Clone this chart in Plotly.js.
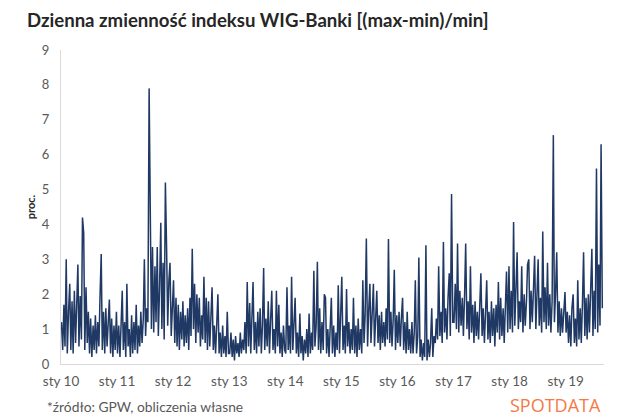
<!DOCTYPE html>
<html>
<head>
<meta charset="utf-8">
<script src="https://cdn.plot.ly/plotly-3.0.1.min.js"></script>
<style>
  html, body { margin: 0; padding: 0; background: #fff; }
  #plot { width: 640px; height: 419px; }
</style>
</head>
<body>
<div id="plot"></div>
<script>
// daily (max-min)/min of WIG-Banki, in % (thinned, roughly one value per week)
var v2010 = [1.2,0.4,1.7,0.5,3.0,0.3,1.5,2.3,0.4,1.8,0.3,2.1,0.6,1.4,2.85,0.5,1.95,0.7,4.2,3.75,0.4,2.2,0.6,1.5,0.3,1.3,0.2,1.1,0.4,1.4,0.3,1.2,0.5,1.9,3.15,0.4,1.5,0.3,1.6,0.5,1.2,1.85,0.3,1.3,0.2,1.1,0.4,1.5];
var v2011 = [0.3,1.1,0.2,1.3,2.1,0.4,1.2,0.2,2.3,0.5,1.0,0.2,1.4,0.3,1.2,0.4,1.7,0.3,1.1,0.5,1.5,0.6,1.3,3.0,0.8,1.6,1.2,7.9,3.7,1.0,3.35,0.9,2.8,1.2,3.35,0.8,2.2,4.05,1.0,2.9,0.7,5.2,3.3,1.1,2.4,2.9,0.8,1.8];
var v2012 = [2.4,0.6,1.9,0.5,1.7,0.4,1.5,0.7,1.8,0.5,1.4,0.6,1.6,0.4,1.9,0.8,3.3,1.0,2.3,0.6,2.0,0.9,1.9,0.5,1.4,0.7,2.5,0.6,1.9,0.4,1.8,0.5,1.2,2.2,0.4,1.1,0.3,1.0,2.0,0.3,0.9,0.2,1.1,0.3,0.8,0.2,1.5,0.3];
var v2013 = [0.3,0.9,0.2,0.7,0.1,0.8,0.3,0.6,0.2,0.9,0.3,0.7,0.4,1.2,0.3,2.35,0.5,1.75,0.3,1.4,2.35,0.4,1.2,0.3,1.5,0.5,1.6,0.3,1.1,2.75,0.4,1.3,0.5,1.8,0.3,1.2,2.1,0.4,1.0,0.3,2.1,0.5,1.7,0.3,0.9,0.2,1.1,0.4];
var v2014 = [0.3,2.2,0.4,1.1,0.3,2.5,0.4,1.2,1.9,0.3,0.9,0.2,1.45,0.3,0.8,0.1,0.7,0.3,1.0,0.2,1.45,0.3,0.9,0.4,2.67,0.5,1.1,2.93,0.4,1.6,0.3,1.2,0.4,2.0,1.9,0.3,1.0,0.2,1.3,1.9,0.3,1.1,0.2,0.9,0.4,2.26,0.3,1.2];
var v2015 = [2.5,0.4,1.1,0.3,2.15,0.5,1.2,0.3,1.0,0.4,1.9,0.3,1.1,0.2,1.3,0.4,1.0,0.3,2.4,0.6,1.4,3.6,0.5,1.5,2.3,0.6,1.4,2.3,0.5,1.3,2.1,0.6,1.4,0.4,1.5,0.6,1.2,0.5,1.6,0.7,3.58,0.6,1.5,0.5,1.3,2.7,0.4,1.4];
var v2016 = [0.6,1.5,0.5,1.3,1.9,0.4,1.2,0.3,1.5,0.4,1.0,0.3,1.2,0.3,0.9,2.4,0.3,0.8,3.05,0.2,0.7,0.1,0.6,0.2,3.4,0.1,0.7,0.2,0.6,1.6,0.2,0.8,0.6,1.3,0.7,2.8,0.8,1.5,0.6,3.5,0.9,1.6,0.7,1.9,2.6,0.8,4.87,1.2];
var v2017 = [1.2,2.3,1.0,3.45,0.9,2.1,1.1,1.9,0.8,2.0,3.45,1.0,1.8,0.7,2.8,0.9,1.7,0.6,1.8,0.8,1.5,0.7,1.9,2.6,0.8,1.6,0.6,1.7,2.4,0.7,1.5,0.6,1.8,0.8,1.6,0.5,1.7,0.9,2.35,0.7,1.9,0.8,1.6,0.6,2.0,2.65,0.9,2.8];
var v2018 = [1.0,2.1,0.9,4.07,1.1,2.0,3.2,1.0,1.8,1.2,2.8,0.9,2.0,1.1,1.8,2.85,3.0,1.0,2.1,1.2,1.9,3.1,1.0,2.2,3.0,1.1,1.9,0.9,3.8,1.2,2.2,1.0,2.9,1.1,2.0,0.9,1.8,6.56,1.2,2.1,3.2,0.9,1.8,0.8,1.6,0.9,1.7,2.06];
var v2019 = [0.9,1.5,0.6,1.4,0.5,1.6,2.0,0.6,1.3,0.5,2.4,0.7,1.6,0.6,1.8,3.2,0.8,1.9,0.7,2.0,0.9,2.2,3.3,0.8,2.1,1.0,5.6,0.9,2.85,1.1,6.3,1.6];

var years = [2010,2011,2012,2013,2014,2015,2016,2017,2018,2019];
var yearValues = [v2010,v2011,v2012,v2013,v2014,v2015,v2016,v2017,v2018,v2019];
var tickLabels = ['sty 10','sty 11','sty 12','sty 13','sty 14','sty 15','sty 16','sty 17','sty 18','sty 19'];

var DAY = 86400000;
var step = 365 / 48; // days between the thinned values

var xs = [], ys = [];
years.forEach(function (yr, k) {
    var start = Date.UTC(yr, 0, 1);
    yearValues[k].forEach(function (v, i) {
        xs.push(new Date(start + (i + 0.5) * step * DAY).toISOString().slice(0, 10));
        ys.push(v);
    });
});

var tickVals = years.map(function (yr) { return yr + '-01-01'; });

var plotlyData = [{
    type: 'scatter',
    mode: 'lines',
    x: xs, y: ys,
    line: {color: '#1f3864', width: 1.5},
    hoverinfo: 'skip'
}];

var fnt = 'Lato, "Open Sans", sans-serif';

var layout = {
    width: 640, height: 419,
    margin: {l: 61, r: 36, t: 50, b: 55},
    paper_bgcolor: '#fff', plot_bgcolor: '#fff',
    showlegend: false,
    font: {family: fnt, color: '#595959', size: 13},
    title: {
        text: 'Dzienna zmienność indeksu WIG-Banki [(max-min)/min]',
        font: {family: fnt, size: 18.6, color: '#262626', weight: 'bold'},
        xref: 'container', yref: 'container',
        x: 27 / 640, xanchor: 'left',
        y: 1 - 20 / 419, yanchor: 'middle'
    },
    xaxis: {
        type: 'date',
        range: ['2010-01-01', '2019-09-08'],
        tickvals: tickVals,
        ticktext: tickLabels,
        ticks: '',
        showgrid: false,
        zeroline: false,
        showline: true,
        linecolor: '#d9d9d9',
        linewidth: 1,
        tickfont: {size: 13.5, color: '#595959'},
        ticklabelstandoff: 5
    },
    yaxis: {
        range: [0, 9],
        dtick: 1,
        ticks: '',
        showgrid: false,
        zeroline: false,
        showline: true,
        linecolor: '#d9d9d9',
        linewidth: 1,
        tickfont: {size: 13, color: '#595959'},
        ticklabelstandoff: 8,
        title: {text: 'proc.', font: {size: 11, color: '#262626', weight: 'bold'}, standoff: 4}
    },
    annotations: [
        {
            text: '*źródło: GPW, obliczenia własne',
            xref: 'paper', yref: 'paper',
            x: (45 - 61) / 543, y: (364 - 406) / 314,
            xanchor: 'left', yanchor: 'middle',
            showarrow: false,
            font: {size: 13.8, color: '#595959'}
        },
        {
            text: 'SPOTDATA',
            xref: 'paper', yref: 'paper',
            x: (508 - 61) / 543, y: (364 - 405) / 314,
            xanchor: 'left', yanchor: 'middle',
            showarrow: false,
            font: {family: '"Open Sans", sans-serif', size: 18, color: '#f47a45'}
        }
    ]
};

Plotly.newPlot(document.getElementById('plot'), plotlyData, layout, {displayModeBar: false, staticPlot: true});
</script>
</body>
</html>
